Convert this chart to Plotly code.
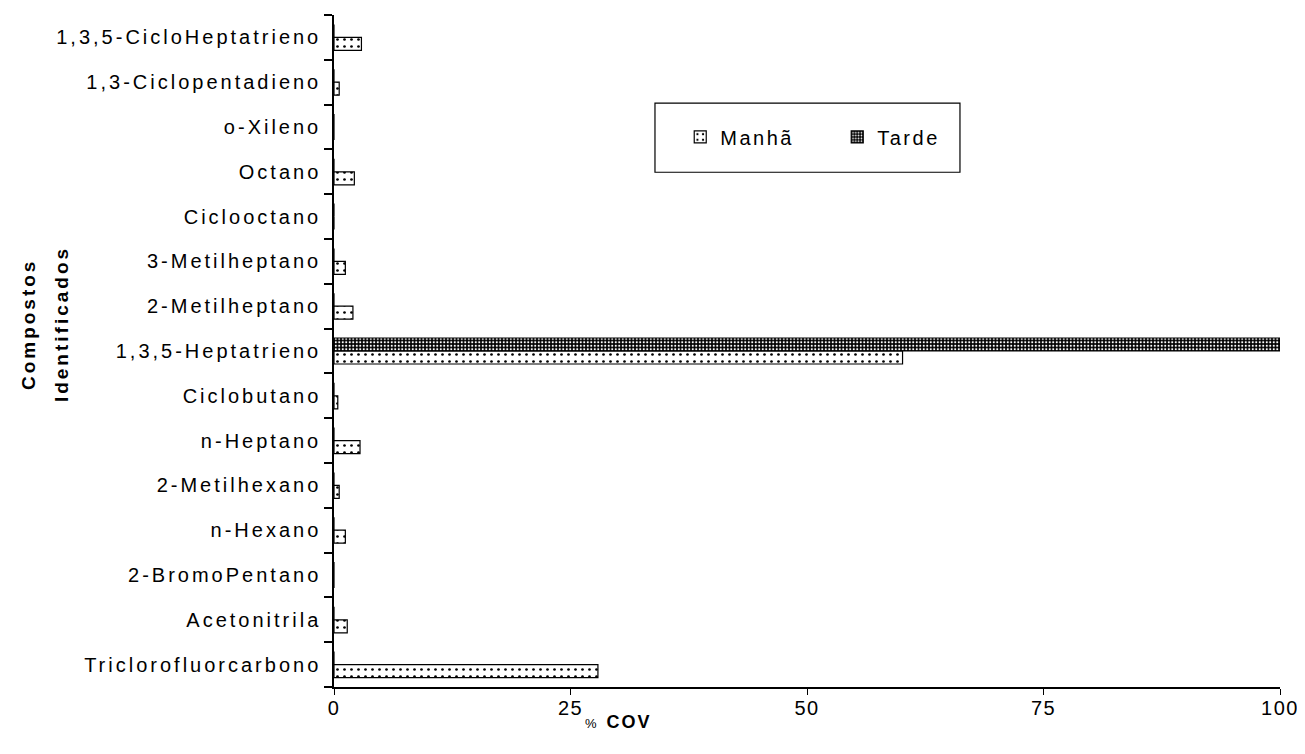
import plotly.graph_objects as go

categories = [
    "Triclorofluorcarbono", "Acetonitrila", "2-BromoPentano", "n-Hexano",
    "2-Metilhexano", "n-Heptano", "Ciclobutano", "1,3,5-Heptatrieno",
    "2-Metilheptano", "3-Metilheptano", "Ciclooctano", "Octano",
    "o-Xileno", "1,3-Ciclopentadieno", "1,3,5-CicloHeptatrieno",
]
manha = [27.9, 1.4, 0, 1.2, 0.55, 2.75, 0.4, 60.1, 2.0, 1.2, 0, 2.15, 0, 0.55, 2.9]
tarde = [0, 0, 0, 0, 0, 0, 0, 100, 0, 0, 0, 0, 0, 0, 0]
x_ticks = [0, 25, 50, 75, 100]

FONT = "Liberation Sans, Arial, sans-serif"


def sp(text, s=3.0):
    return f"<span style='letter-spacing:{s}px'>{text}</span>"


fig = go.Figure()
fig.add_trace(go.Bar(
    y=categories, x=manha, orientation="h", name=sp("Manhã", 2.5),
    marker=dict(color="white", line=dict(color="black", width=1.2),
                pattern=dict(shape=".", fgcolor="black", bgcolor="white",
                             size=7, solidity=0.12, fillmode="replace")),
))
fig.add_trace(go.Bar(
    y=categories, x=tarde, orientation="h", name=sp("Tarde", 2.5),
    marker=dict(color="black", line=dict(color="black", width=1.2),
                pattern=dict(shape=".", fgcolor="white", bgcolor="black",
                             size=3.5, solidity=0.3, fillmode="replace")),
))

# legend frame (drawn as a box around the legend entries)
fig.add_shape(type="rect", xref="paper", yref="paper",
              x0=0.3393, x1=0.6617, y0=0.766, y1=0.869,
              line=dict(color="black", width=1.2), fillcolor="rgba(0,0,0,0)",
              layer="above")

fig.update_layout(
    width=1297, height=746,
    margin=dict(l=326, r=25, t=7, b=67),
    paper_bgcolor="white", plot_bgcolor="white",
    barmode="group", bargap=0.42, bargroupgap=0,
    font=dict(family=FONT, size=20, color="black"),
    showlegend=True,
    legend=dict(orientation="h", x=0.366, y=0.8185, xanchor="left", yanchor="middle",
                borderwidth=0, bgcolor="rgba(0,0,0,0)",
                font=dict(size=20), itemwidth=30,
                entrywidth=112, entrywidthmode="pixels"),
    xaxis=dict(range=[0, 100], tickvals=x_ticks,
               ticktext=[sp(str(v), 1.5) for v in x_ticks],
               ticks="outside", ticklen=6, ticklabelstandoff=-4,
               tickcolor="black", showline=True, linecolor="black", linewidth=1.5,
               showgrid=False, zeroline=False, tickfont=dict(size=20)),
    yaxis=dict(ticks="outside", tickson="boundaries", ticklen=8, tickcolor="black",
               tickwidth=1.5, ticklabelstandoff=7,
               tickvals=categories, ticktext=[sp(c) for c in categories],
               showline=True, linecolor="black", linewidth=1.5, showgrid=False,
               zeroline=False, tickfont=dict(size=20)),
)

fig.add_annotation(x=0.301, y=-0.052, xref="paper", yref="paper",
                   text="<span style='font-size:13px'>%</span>  "
                        "<b><span style='letter-spacing:2px'>COV</span></b>",
                   showarrow=False, xanchor="center", yanchor="middle",
                   font=dict(size=18, family=FONT))
fig.add_annotation(x=-0.3235, y=0.540, xref="paper", yref="paper",
                   text="<b>" + sp("Compostos", 3) + "</b>", textangle=-90,
                   showarrow=False, xanchor="center", yanchor="middle",
                   font=dict(size=19, family=FONT))
fig.add_annotation(x=-0.2886, y=0.540, xref="paper", yref="paper",
                   text="<b>" + sp("Identificados", 3) + "</b>", textangle=-90,
                   showarrow=False, xanchor="center", yanchor="middle",
                   font=dict(size=19, family=FONT))

fig.write_html("out.html")
